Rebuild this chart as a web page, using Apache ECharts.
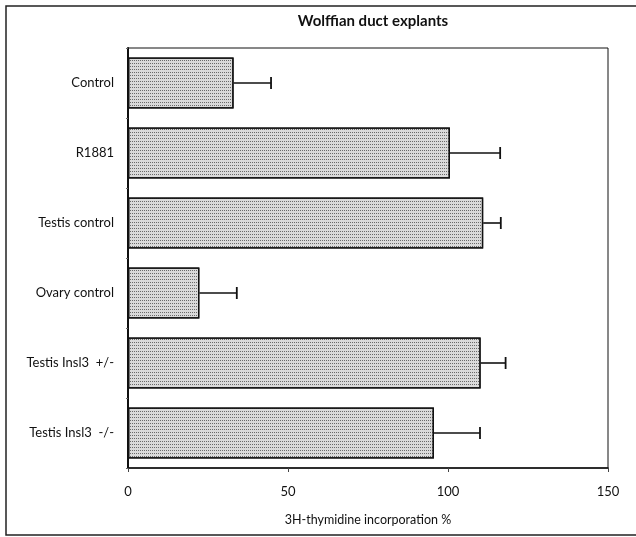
<!DOCTYPE html>
<html>
<head>
<meta charset="utf-8">
<script src="https://cdn.jsdelivr.net/npm/echarts@6/dist/echarts.min.js"></script>
<style>
html,body{margin:0;padding:0;background:#fff;}
#chart{width:636px;height:537px;}
</style>
</head>
<body>
<div id="chart"></div>
<script>
var categories = ["Control", "R1881", "Testis control", "Ovary control", "Testis Insl3  +/-", "Testis Insl3  -/-"];
var means = [33, 100.6, 111, 22.3, 110.2, 95.6];
var errorTops = [44.7, 116.3, 116.5, 34, 118, 110];
var xTicks = [0, 50, 100, 150];

var chart = echarts.init(document.getElementById('chart'), null, {renderer: 'canvas'});
var FONT = 'Lato';

var option = {
  animation: false,
  backgroundColor: '#fff',
  title: {
    text: 'Wolffian duct explants',
    left: 368,
    top: 9,
    textAlign: 'center',
    textStyle: {fontFamily: FONT, fontWeight: 'bold', fontSize: 15, color: '#111'}
  },
  graphic: [{
    type: 'rect',
    shape: {x: 6, y: 6, width: 640, height: 529},
    style: {fill: 'none', stroke: '#222', lineWidth: 1.5},
    silent: true
  }],
  grid: {
    left: 128, right: 28, top: 48, bottom: 69,
    show: true, borderColor: '#111', borderWidth: 1, backgroundColor: 'transparent'
  },
  xAxis: {
    type: 'value',
    min: 0, max: 150, interval: 50,
    name: '3H-thymidine incorporation %',
    nameLocation: 'middle',
    nameGap: 45,
    nameTextStyle: {fontFamily: FONT, fontSize: 12.5, color: '#111'},
    axisLine: {show: true, onZero: false, lineStyle: {color: '#111', width: 1.5}},
    axisTick: {show: true, length: 4, lineStyle: {color: '#444'}},
    axisLabel: {
      margin: 17, fontFamily: FONT, fontSize: 13, color: '#111',
      formatter: function (v) { return xTicks.indexOf(v) >= 0 ? String(v) : ''; }
    },
    splitLine: {show: false}
  },
  yAxis: {
    type: 'category',
    data: categories,
    inverse: true,
    axisLine: {show: true, lineStyle: {color: '#111', width: 2}},
    axisTick: {show: true, length: 2, lineStyle: {color: '#666'}},
    axisLabel: {margin: 14, fontFamily: FONT, fontSize: 13, color: '#111'},
    splitLine: {show: false}
  },
  series: [{
    type: 'bar',
    data: means,
    barWidth: '73%',
    itemStyle: {
      color: '#dadada',
      borderColor: '#111',
      borderWidth: 1.3,
      decal: {
        symbol: 'rect',
        symbolSize: 1,
        dashArrayX: [1, 1],
        dashArrayY: [1, 2],
        color: 'rgba(30,30,30,0.6)',
        rotation: 0
      }
    },
    z: 2
  }, {
    type: 'custom',
    data: means.map(function (m, i) { return [i, m, errorTops[i]]; }),
    renderItem: function (params, api) {
      var idx = api.value(0);
      var p0 = api.coord([api.value(1), idx]);
      var p1 = api.coord([api.value(2), idx]);
      var h = 6;
      return {
        type: 'group',
        children: [{
          type: 'line',
          shape: {x1: p0[0], y1: p0[1], x2: p1[0], y2: p1[1]},
          style: {stroke: '#111', lineWidth: 1.6}
        }, {
          type: 'line',
          shape: {x1: p1[0], y1: p1[1] - h, x2: p1[0], y2: p1[1] + h},
          style: {stroke: '#111', lineWidth: 1.8}
        }]
      };
    },
    encode: {x: [1, 2], y: 0},
    z: 3
  }]
};
chart.setOption(option);
</script>
</body>
</html>
